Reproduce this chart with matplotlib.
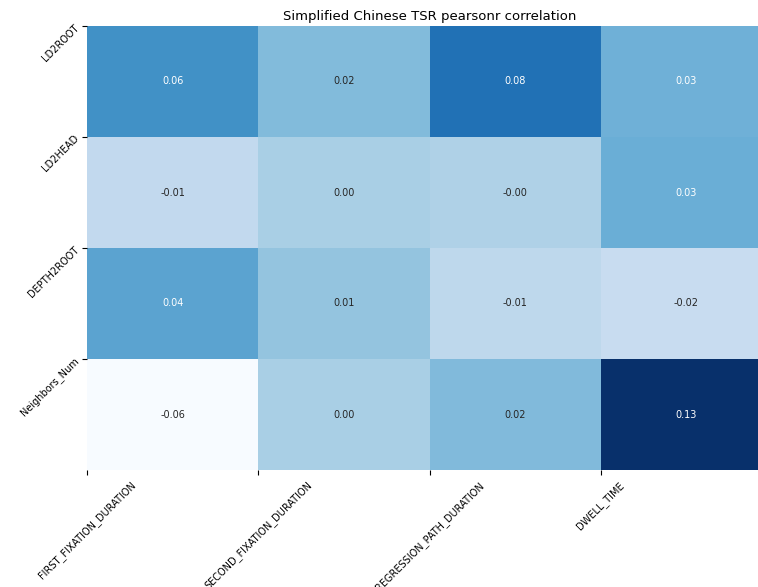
import matplotlib
matplotlib.use("Agg")
import matplotlib.pyplot as plt
import seaborn as sns
import numpy as np

# features / metrics
features = ["LD2ROOT", "LD2HEAD", "DEPTH2ROOT", "Neighbors_Num"]
metrics = ["FIRST_FIXATION_DURATION", "SECOND_FIXATION_DURATION",
           "REGRESSION_PATH_DURATION", "DWELL_TIME"]

# pearsonr values (rows = features)
ld2root = [0.057, 0.022, 0.080, 0.031]
ld2head = [-0.012, 0.003, -0.001, 0.033]
depth2root = [0.042, 0.014, -0.010, -0.016]
neighbors_num = [-0.062, 0.003, 0.023, 0.128]

corr = np.array([ld2root, ld2head, depth2root, neighbors_num])

fig = plt.figure(figsize=(7.58, 5.87), dpi=100)
ax = fig.add_axes([87/758, 117/587, 685/758, 444/587])

sns.heatmap(corr, annot=True, fmt=".2f", cmap="Blues", cbar=False, ax=ax,
            annot_kws={"fontsize": 7})

# ticks sit on the cell edges
ax.set_xticks(range(len(metrics)))
ax.set_xticklabels(metrics, rotation=45, ha="center", va="top", fontsize=7)
ax.set_yticks(range(len(features)))
ax.set_yticklabels(features, rotation=45, ha="right", va="center",
                   rotation_mode="anchor", fontsize=7)

ax.set_title("Simplified Chinese TSR pearsonr correlation", fontsize=9.5, pad=4)

fig.savefig("out.png", dpi=100)
